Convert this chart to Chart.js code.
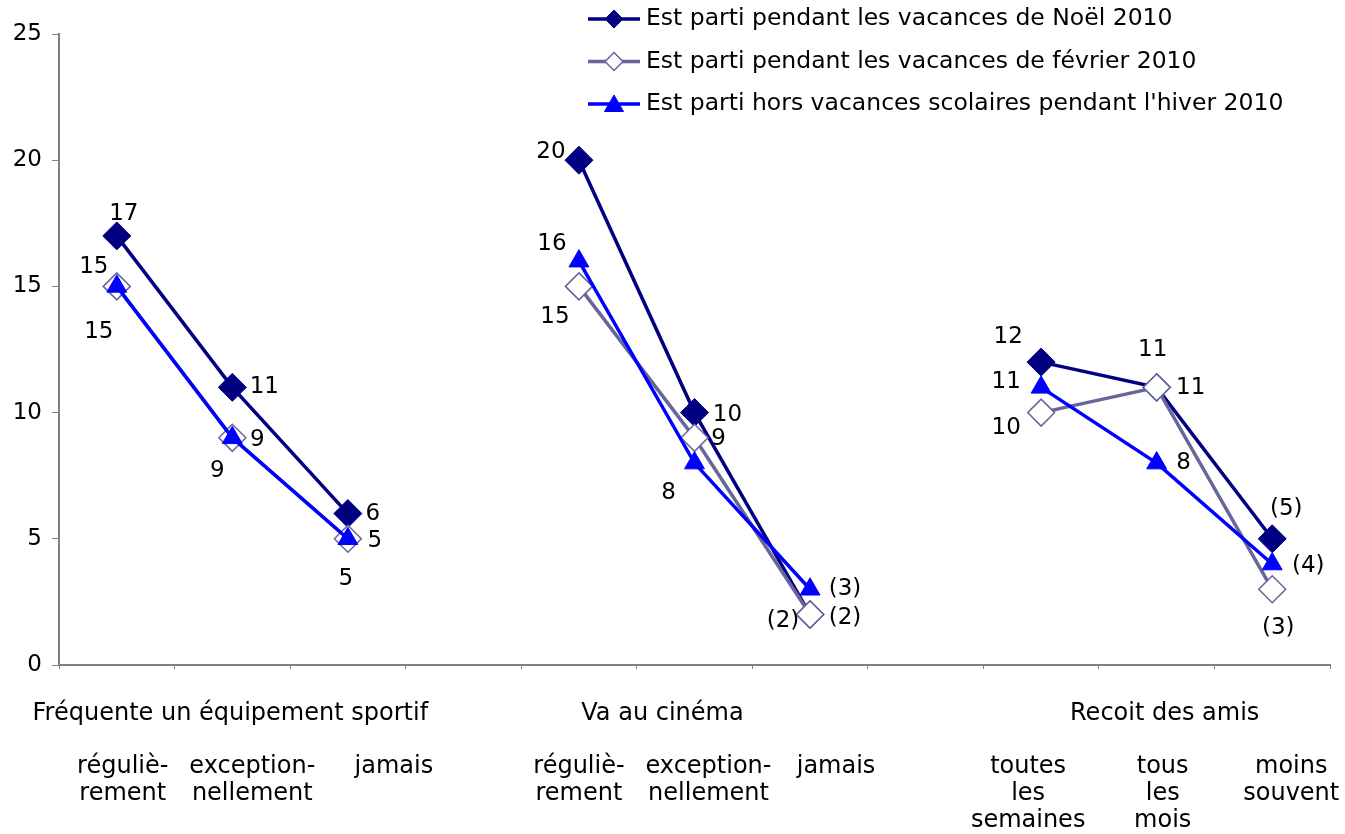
<!DOCTYPE html>
<html lang="fr">
<head>
<meta charset="utf-8">
<title>Sorties pendant l'hiver 2010</title>
<script src="https://cdn.jsdelivr.net/npm/chart.js@4.4.1/dist/chart.umd.min.js"></script>
<style>
  html, body { margin: 0; padding: 0; background: #fff; }
  #cadre { width: 1345px; height: 834px; position: relative; }
</style>
</head>
<body>
<div id="cadre"><canvas id="graphique"></canvas></div>
<script>
/* ---------- Donnees ---------- */
// 11 positions : 3 modalites par theme, une position vide entre les themes
const positions = ['sport-reg', 'sport-exc', 'sport-jam', 'vide1',
                   'cine-reg', 'cine-exc', 'cine-jam', 'vide2',
                   'amis-sem', 'amis-mois', 'amis-moins'];
const themes = ['', 'Fréquente un équipement sportif', '', '',
                '', 'Va au cinéma', '', '',
                '', 'Recoit des amis', ''];
const modalites = [['réguliè-', 'rement'], ['exception-', 'nellement'], ['jamais'], [],
                   ['réguliè-', 'rement'], ['exception-', 'nellement'], ['jamais'], [],
                   ['toutes', 'les', 'semaines'], ['tous', 'les', 'mois'], ['moins', 'souvent']];

const noel2010     = [17, 11, 6, null, 20, 10, 2, null, 12, 11, 5];
const fevrier2010  = [15,  9, 5, null, 15,  9, 2, null, 10, 11, 3];
const horsVacances = [15,  9, 5, null, 16,  8, 3, null, 11,  8, 4];

// effectifs faibles : valeur affichee entre parentheses
const entreParentheses = [false, false, false, false, false, false, true, false, false, false, true];

const nomsSeries = ['Est parti pendant les vacances de Noël 2010',
                    'Est parti pendant les vacances de février 2010',
                    "Est parti hors vacances scolaires pendant l'hiver 2010"];

/* ---------- Placement du texte (decalages en px) ---------- */
const decalages = [
  [[7, -22], [32, 0], [25, 0], null, [-28, -8], [33, 2], [-27, 7], null, [-33, -25], [-4, -37], [14, -30]],
  [[-23, -19], [25, 2], [27, 2], null, [-24, 31], [24, 1], [35, 4], null, [-35, 15], [34, 1], [6, 39]],
  [[-18, 46], [-15, 33], [-2, 40], null, [-27, -17], [-26, 30], [35, 0], null, [-35, -5], [27, 0], [36, 2]],
];
// l'original decale un peu les libelles de l'axe par rapport aux points
const decalThemes    = [0, -2, 0, 0, 0, -32, 0, 0, 0, 8, 0];
const decalModalites = [6, 20, 46, 0, 0, 14, 26, 0, -13, 6, 19];

const POLICE = '"DejaVu Sans", Verdana, sans-serif';
const GRIS_AXE = '#808080';

/* ---------- Plugins ---------- */
const etiquettes = {
  id: 'etiquettes',
  afterDatasetsDraw(chart) {
    const ctx = chart.ctx;
    ctx.save();
    ctx.font = '23px ' + POLICE;
    ctx.fillStyle = '#000';
    ctx.textAlign = 'center';
    ctx.textBaseline = 'middle';
    chart.data.datasets.forEach((ds, i) => {
      const meta = chart.getDatasetMeta(i);
      meta.data.forEach((pt, j) => {
        const v = ds.data[j];
        if (v == null) return;
        const d = decalages[i][j];
        const txt = entreParentheses[j] ? '(' + v + ')' : String(v);
        ctx.fillText(txt, pt.x + d[0], pt.y + d[1]);
      });
    });
    ctx.restore();
  }
};

// libelles de l'axe X dessines a la main (themes puis modalites sur plusieurs lignes)
const libellesX = {
  id: 'libellesX',
  afterDraw(chart) {
    const ctx = chart.ctx;
    const sx = chart.scales.x;
    const bas = chart.chartArea.bottom;
    ctx.save();
    ctx.font = '24px ' + POLICE;
    ctx.fillStyle = '#000';
    ctx.textAlign = 'center';
    ctx.textBaseline = 'middle';
    positions.forEach((p, i) => {
      const x = sx.getPixelForValue(i);
      if (themes[i]) ctx.fillText(themes[i], x + decalThemes[i], bas + 49);
      modalites[i].forEach((ligne, k) => {
        ctx.fillText(ligne, x + decalModalites[i], bas + 102 + k * 27);
      });
    });
    ctx.restore();
  }
};

function marqueur(ctx, style, x, y, r) {
  ctx.beginPath();
  if (style === 'triangle') {
    ctx.moveTo(x, y - r);
    ctx.lineTo(x + r * 0.866, y + r * 0.5);
    ctx.lineTo(x - r * 0.866, y + r * 0.5);
  } else {
    ctx.moveTo(x, y - r);
    ctx.lineTo(x + r, y);
    ctx.lineTo(x, y + r);
    ctx.lineTo(x - r, y);
  }
  ctx.closePath();
}

// legende verticale en haut a droite, comme dans l'original
const legende = {
  id: 'legende',
  afterDraw(chart) {
    const ctx = chart.ctx;
    ctx.save();
    ctx.font = '23.5px ' + POLICE;
    ctx.textBaseline = 'middle';
    ctx.textAlign = 'left';
    chart.data.datasets.forEach((ds, i) => {
      const y = 19 + i * 42.5;
      ctx.strokeStyle = ds.borderColor;
      ctx.lineWidth = ds.borderWidth;
      ctx.beginPath(); ctx.moveTo(588, y); ctx.lineTo(640, y); ctx.stroke();
      marqueur(ctx, ds.pointStyle, 614, y + (ds.pointStyle === 'triangle' ? 2 : 0), ds.pointStyle === 'triangle' ? 11 : 9);
      ctx.fillStyle = ds.pointBackgroundColor;
      ctx.fill();
      ctx.lineWidth = ds.pointBorderWidth;
      ctx.strokeStyle = ds.pointBorderColor;
      ctx.stroke();
      ctx.fillStyle = '#000';
      ctx.fillText(nomsSeries[i], 646, y);
    });
    ctx.restore();
  }
};

/* ---------- Graphique ---------- */
Chart.defaults.font.family = POLICE;
Chart.defaults.font.size = 23;
Chart.defaults.color = '#000';

const serie = (label, data, couleur, style, fond, rayon, bordure, ordre) => ({
  label, data,
  borderColor: couleur, borderWidth: 3.5,
  pointStyle: style, pointRadius: rayon, pointHoverRadius: rayon,
  pointBackgroundColor: fond, pointBorderColor: couleur, pointBorderWidth: bordure,
  spanGaps: false, tension: 0, fill: false, order: ordre,
});

new Chart(document.getElementById('graphique'), {
  type: 'line',
  data: {
    labels: positions,
    datasets: [
      serie(nomsSeries[0], noel2010, '#000080', 'rectRot', '#000080', 14, 1, 3),
      serie(nomsSeries[1], fevrier2010, '#666699', 'rectRot', '#ffffff', 13.5, 1.5, 2),
      serie(nomsSeries[2], horsVacances, '#0000ff', 'triangle', '#0000ff', 11.5, 1, 1),
    ],
  },
  options: {
    responsive: true,
    maintainAspectRatio: false,
    animation: false,
    layout: { padding: { top: 34, right: 9, left: 0, bottom: 0 } },
    plugins: { legend: { display: false }, tooltip: { enabled: false } },
    scales: {
      y: {
        min: 0, max: 25,
        ticks: { stepSize: 5, padding: 10 },
        grid: { drawOnChartArea: false, tickLength: 7, color: GRIS_AXE },
        border: { color: GRIS_AXE, width: 2 },
        afterFit: s => { s.width = 59; },
      },
      x: {
        type: 'category',
        offset: true,
        ticks: { display: false },
        grid: { drawOnChartArea: false, offset: true, tickLength: 4, color: GRIS_AXE },
        border: { color: GRIS_AXE, width: 2 },
        afterFit: s => { s.height = 169; },
      },
    },
  },
  plugins: [etiquettes, libellesX, legende],
});
</script>
</body>
</html>
